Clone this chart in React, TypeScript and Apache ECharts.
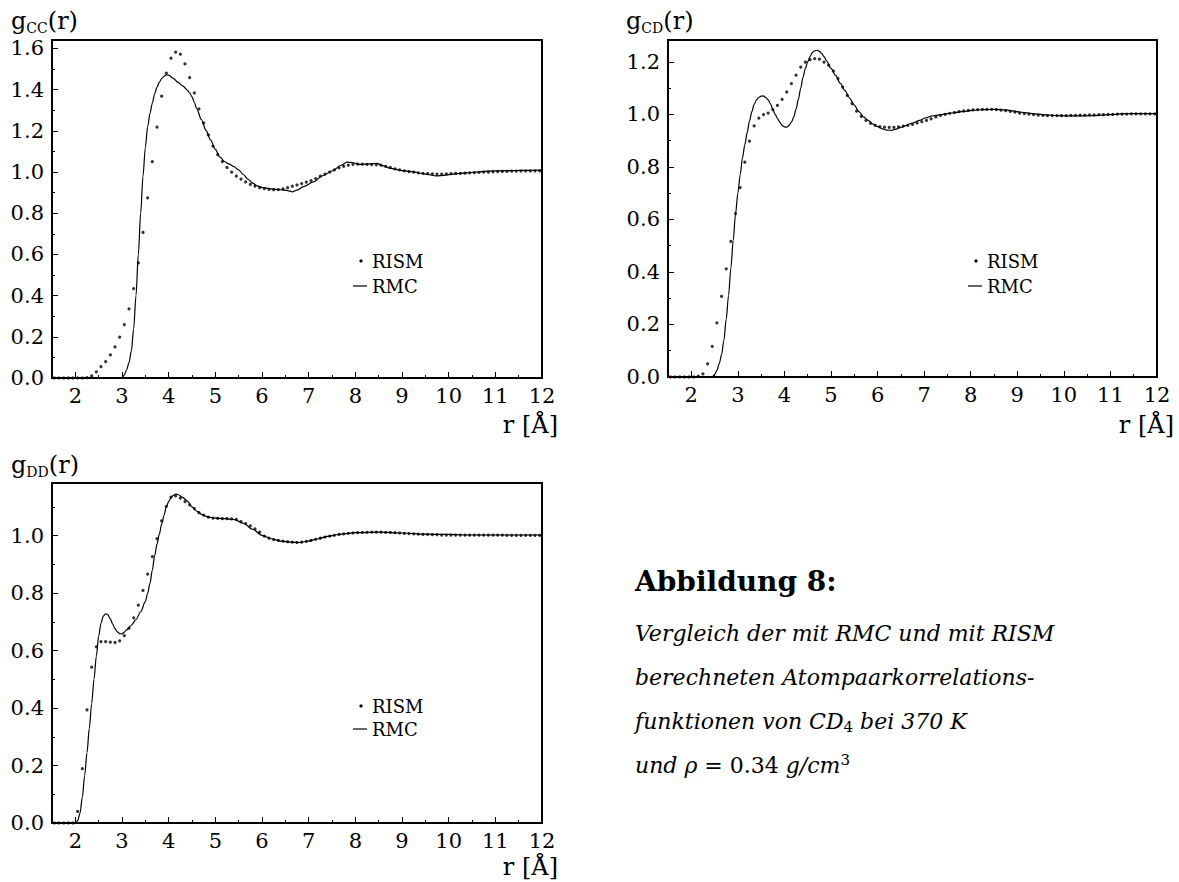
import React, { useEffect, useRef } from "react";
import * as echarts from "echarts";

// ---------- data ----------
const RISM_R = [
  1.55, 1.65, 1.75, 1.85, 1.95, 2.05, 2.15, 2.25, 2.35, 2.45,
  2.55, 2.65, 2.75, 2.85, 2.95, 3.05, 3.15, 3.25, 3.35, 3.45,
  3.55, 3.65, 3.75, 3.85, 3.95, 4.05, 4.15, 4.25, 4.35, 4.45,
  4.55, 4.65, 4.75, 4.85, 4.95, 5.05, 5.15, 5.25, 5.35, 5.45,
  5.55, 5.65, 5.75, 5.85, 5.95, 6.05, 6.15, 6.25, 6.35, 6.45,
  6.55, 6.65, 6.75, 6.85, 6.95, 7.05, 7.15, 7.25, 7.35, 7.45,
  7.55, 7.65, 7.75, 7.85, 7.95, 8.05, 8.15, 8.25, 8.35, 8.45,
  8.55, 8.65, 8.75, 8.85, 8.95, 9.05, 9.15, 9.25, 9.35, 9.45,
  9.55, 9.65, 9.75, 9.85, 9.95, 10.05, 10.15, 10.25, 10.35, 10.45,
  10.55, 10.65, 10.75, 10.85, 10.95, 11.05, 11.15, 11.25, 11.35, 11.45,
  11.55, 11.65, 11.75, 11.85, 11.95,
];

const RISM_CC = [
  0, 0, 0, 0, 0, 0, 0, 0.002, 0.01, 0.03,
  0.055, 0.08, 0.112, 0.151, 0.199, 0.259, 0.336, 0.434, 0.559, 0.707,
  0.875, 1.05, 1.218, 1.368, 1.48, 1.553, 1.582, 1.572, 1.525, 1.458,
  1.384, 1.307, 1.238, 1.18, 1.126, 1.084, 1.051, 1.022, 0.999, 0.98,
  0.966, 0.952, 0.94, 0.932, 0.924, 0.919, 0.916, 0.914, 0.915, 0.918,
  0.924, 0.931, 0.937, 0.944, 0.951, 0.958, 0.968, 0.98, 0.99, 1.0,
  1.01, 1.02, 1.028, 1.034, 1.037, 1.038, 1.038, 1.037, 1.036, 1.035,
  1.033, 1.028, 1.022, 1.015, 1.01, 1.006, 1.002, 0.999, 0.996, 0.994,
  0.992, 0.991, 0.99, 0.99, 0.991, 0.992, 0.993, 0.994, 0.995, 0.996,
  0.997, 0.998, 0.999, 1.0, 1.001, 1.002, 1.003, 1.003, 1.004, 1.004,
  1.005, 1.005, 1.005, 1.006, 1.006,
];

const RISM_CD = [
  0, 0, 0, 0, 0, 0, 0.003, 0.012, 0.05, 0.117,
  0.206, 0.307, 0.412, 0.516, 0.622, 0.721, 0.818, 0.898, 0.956, 0.986,
  0.999, 1.005, 1.018, 1.034, 1.057, 1.085, 1.117, 1.149, 1.18, 1.199,
  1.208, 1.212, 1.21, 1.199, 1.187, 1.165, 1.136, 1.104, 1.072, 1.041,
  1.012, 0.992, 0.977, 0.966, 0.958, 0.953, 0.951, 0.95, 0.95, 0.952,
  0.955, 0.958, 0.962, 0.967, 0.972, 0.977, 0.983, 0.99, 0.996, 1.0,
  1.004, 1.007, 1.01, 1.013, 1.015, 1.017, 1.018, 1.019, 1.019, 1.019,
  1.018, 1.016, 1.014, 1.011, 1.008, 1.005, 1.003, 1.001, 0.999, 0.997,
  0.996, 0.995, 0.995, 0.995, 0.995, 0.995, 0.996, 0.996, 0.997, 0.997,
  0.998, 0.998, 0.999, 0.999, 1.0, 1.0, 1.001, 1.001, 1.001, 1.002,
  1.002, 1.002, 1.002, 1.002, 1.002,
];

const RISM_DD = [
  0, 0, 0, 0, 0, 0.04, 0.189, 0.394, 0.542, 0.613,
  0.631, 0.631, 0.629, 0.628, 0.634, 0.652, 0.678, 0.714, 0.758, 0.809,
  0.866, 0.927, 0.989, 1.051, 1.102, 1.134, 1.138, 1.13, 1.118, 1.107,
  1.094, 1.08, 1.071, 1.064, 1.061, 1.06, 1.059, 1.059, 1.058, 1.056,
  1.049, 1.042, 1.034, 1.023, 1.012, 0.998, 0.991, 0.986, 0.983, 0.981,
  0.979, 0.977, 0.976, 0.977, 0.98, 0.983, 0.987, 0.991, 0.995, 0.998,
  1.001, 1.004, 1.006, 1.008, 1.009, 1.01, 1.011, 1.011, 1.012, 1.012,
  1.012, 1.011, 1.011, 1.01, 1.009, 1.008, 1.007, 1.006, 1.005, 1.004,
  1.004, 1.003, 1.003, 1.002, 1.002, 1.002, 1.002, 1.002, 1.002, 1.002,
  1.002, 1.002, 1.002, 1.002, 1.002, 1.002, 1.002, 1.001, 1.001, 1.001,
  1.001, 1.001, 1.001, 1.001, 1.001,
];

const RMC_CC_R = [
  1.5, 2.95, 3.0, 3.05, 3.1, 3.15, 3.2, 3.25, 3.3, 3.35, 3.4, 3.45, 3.5, 3.55,
  3.6, 3.65, 3.7, 3.75, 3.8, 3.85, 3.9, 3.95, 4.0, 4.1, 4.2, 4.3, 4.4, 4.45,
  4.5, 4.55, 4.6, 4.7, 4.8, 4.9, 5.0, 5.1, 5.2, 5.3, 5.4, 5.5, 5.6, 5.7, 5.8,
  5.9, 6.0, 6.2, 6.4, 6.55, 6.65, 6.75, 6.9, 7.1, 7.3, 7.5, 7.7, 7.82, 7.95,
  8.1, 8.3, 8.46, 8.6, 8.74, 9.0, 9.24, 9.5, 9.74, 9.9, 10.1, 10.39, 10.7,
  11.03, 11.5, 12.0,
];
const RMC_CC_G = [
  0, 0, 0.003, 0.015, 0.04, 0.075, 0.13, 0.24, 0.4, 0.6, 0.8, 0.98, 1.12, 1.22,
  1.285, 1.335, 1.38, 1.412, 1.436, 1.454, 1.466, 1.472, 1.47, 1.455, 1.436,
  1.418, 1.398, 1.384, 1.365, 1.338, 1.308, 1.255, 1.202, 1.155, 1.11, 1.072,
  1.05, 1.038, 1.026, 1.01, 0.988, 0.965, 0.946, 0.933, 0.925, 0.918, 0.914,
  0.91, 0.904, 0.912, 0.93, 0.952, 0.982, 1.005, 1.033, 1.048, 1.045, 1.037,
  1.04, 1.042, 1.03, 1.018, 1.007, 1.001, 0.99, 0.981, 0.984, 0.99, 0.996,
  1.002, 1.006, 1.008, 1.009,
];

const RMC_CD_R = [
  1.5, 2.45, 2.5, 2.55, 2.6, 2.65, 2.7, 2.75, 2.8, 2.85, 2.9, 2.95, 3.0, 3.05,
  3.1, 3.15, 3.2, 3.25, 3.3, 3.35, 3.4, 3.45, 3.5, 3.55, 3.6, 3.65, 3.7, 3.75,
  3.8, 3.85, 3.9, 3.95, 4.0, 4.05, 4.1, 4.15, 4.2, 4.25, 4.3, 4.35, 4.4, 4.45,
  4.5, 4.55, 4.6, 4.65, 4.7, 4.75, 4.8, 4.85, 4.9, 5.0, 5.1, 5.2, 5.3, 5.4,
  5.5, 5.6, 5.7, 5.8, 5.9, 6.0, 6.1, 6.2, 6.3, 6.4, 6.5, 6.6, 6.75, 6.9, 7.04,
  7.15, 7.25, 7.4, 7.6, 7.8, 8.04, 8.3, 8.54, 8.75, 8.9, 9.1, 9.32, 9.6, 9.89,
  10.2, 10.61, 11.0, 11.32, 11.6, 12.0,
];
const RMC_CD_G = [
  0, 0, 0.01, 0.025, 0.05, 0.085, 0.14, 0.22, 0.31, 0.415, 0.52, 0.62, 0.7,
  0.77, 0.835, 0.885, 0.93, 0.975, 1.01, 1.038, 1.055, 1.065, 1.069, 1.07,
  1.064, 1.055, 1.04, 1.02, 1.0, 0.985, 0.97, 0.958, 0.952, 0.951, 0.958, 0.97,
  0.99, 1.02, 1.058, 1.1, 1.142, 1.175, 1.2, 1.22, 1.235, 1.242, 1.244, 1.24,
  1.232, 1.22, 1.205, 1.175, 1.148, 1.118, 1.09, 1.062, 1.035, 1.01, 0.99,
  0.977, 0.963, 0.953, 0.945, 0.94, 0.939, 0.944, 0.95, 0.957, 0.967, 0.977,
  0.987, 0.993, 0.996, 1.0, 1.005, 1.01, 1.015, 1.018, 1.019, 1.017, 1.013,
  1.008, 1.003, 0.998, 0.995, 0.994, 0.995, 0.999, 1.003, 1.003, 1.003,
];

const RMC_DD_R = [
  1.5, 2.0, 2.05, 2.1, 2.15, 2.2, 2.25, 2.3, 2.35, 2.4, 2.45, 2.5, 2.55, 2.6,
  2.65, 2.7, 2.75, 2.8, 2.85, 2.9, 2.95, 3.0, 3.05, 3.1, 3.2, 3.3, 3.4, 3.5,
  3.55, 3.6, 3.65, 3.7, 3.75, 3.8, 3.85, 3.9, 3.95, 4.0, 4.05, 4.1, 4.15, 4.2,
  4.3, 4.4, 4.5, 4.6, 4.7, 4.8, 4.9, 5.0, 5.2, 5.4, 5.6, 5.8, 6.0, 6.2, 6.4,
  6.6, 6.8, 7.0, 7.2, 7.4, 7.6, 7.8, 8.0, 8.5, 9.0, 9.5, 10.0, 10.5, 11.0,
  11.5, 12.0,
];
const RMC_DD_G = [
  0, 0, 0.008, 0.034, 0.09, 0.165, 0.245, 0.33, 0.415, 0.5, 0.58, 0.65, 0.695,
  0.72, 0.728, 0.724, 0.71, 0.692, 0.676, 0.665, 0.659, 0.658, 0.664, 0.672,
  0.688, 0.708, 0.735, 0.77, 0.8, 0.835, 0.88, 0.93, 0.97, 1.005, 1.04, 1.07,
  1.1, 1.118, 1.132, 1.14, 1.144, 1.143, 1.133, 1.12, 1.1, 1.085, 1.074, 1.067,
  1.063, 1.061, 1.059, 1.056, 1.043, 1.022, 1.001, 0.989, 0.981, 0.977, 0.976,
  0.981, 0.989, 0.997, 1.003, 1.007, 1.01, 1.012, 1.009, 1.005, 1.004, 1.002,
  1.002, 1.002, 1.002,
];

const X_MAJOR = [2, 3, 4, 5, 6, 7, 8, 9, 10, 11, 12];
const X_MINOR = [2.5, 3.5, 4.5, 5.5, 6.5, 7.5, 8.5, 9.5, 10.5, 11.5];
const Y_MAJOR_CC = [0, 0.2, 0.4, 0.6, 0.8, 1.0, 1.2, 1.4, 1.6];
const Y_MINOR_CC = [0.1, 0.3, 0.5, 0.7, 0.9, 1.1, 1.3, 1.5];
const Y_MAJOR_CD = [0, 0.2, 0.4, 0.6, 0.8, 1.0, 1.2];
const Y_MINOR_CD = [0.1, 0.3, 0.5, 0.7, 0.9, 1.1];
const Y_MAJOR_DD = [0, 0.2, 0.4, 0.6, 0.8, 1.0];
const Y_MINOR_DD = [0.1, 0.3, 0.5, 0.7, 0.9, 1.1];
const Y_MAX = [1.641, 1.283, 1.183];

const SERIF = "DejaVu Serif";

function zip(a: number[], b: number[]) {
  return a.map((v, i) => [v, b[i]]);
}

export default function App() {
  const ref = useRef<HTMLDivElement>(null);

  useEffect(() => {
    if (!ref.current) return;
    const chart = echarts.init(ref.current, undefined, { renderer: "svg" });

    const grids = [
      { left: 52, top: 40, width: 490, height: 338 },
      { left: 668, top: 40, width: 489, height: 337 },
      { left: 52, top: 483, width: 490, height: 340 },
    ];
    const yMajor = [Y_MAJOR_CC, Y_MAJOR_CD, Y_MAJOR_DD];
    const yMinor = [Y_MINOR_CC, Y_MINOR_CD, Y_MINOR_DD];
    const rism = [RISM_CC, RISM_CD, RISM_DD];
    const rmc = [
      zip(RMC_CC_R, RMC_CC_G),
      zip(RMC_CD_R, RMC_CD_G),
      zip(RMC_DD_R, RMC_DD_G),
    ];

    const xAxis: any[] = [];
    const yAxis: any[] = [];
    const series: any[] = [];
    grids.forEach((_, i) => {
      xAxis.push({
        type: "value",
        gridIndex: i,
        min: 1.5,
        max: 12,
        position: "bottom",
        axisLine: { show: true, onZero: false, lineStyle: { color: "#000", width: 2 } },
        axisTick: {
          show: true,
          inside: true,
          length: 6,
          customValues: X_MAJOR,
          lineStyle: { color: "#000", width: 1 },
        },
        axisLabel: {
          customValues: X_MAJOR,
          showMinLabel: true,
          showMaxLabel: true,
          color: "#000",
          fontFamily: SERIF,
          fontSize: 21,
          margin: 7,
        },
        splitLine: { show: false },
      });
      xAxis.push({
        type: "value",
        gridIndex: i,
        min: 1.5,
        max: 12,
        position: "bottom",
        axisLine: { show: false },
        axisTick: {
          show: true,
          inside: true,
          length: 3,
          customValues: X_MINOR,
          lineStyle: { color: "#000", width: 1 },
        },
        axisLabel: { show: false },
        splitLine: { show: false },
      });
      yAxis.push({
        type: "value",
        gridIndex: i,
        min: 0,
        max: Y_MAX[i],
        position: "left",
        axisLine: { show: true, onZero: false, lineStyle: { color: "#000", width: 2 } },
        axisTick: {
          show: true,
          inside: true,
          length: 6,
          customValues: yMajor[i],
          lineStyle: { color: "#000", width: 1 },
        },
        axisLabel: {
          customValues: yMajor[i],
          showMinLabel: true,
          showMaxLabel: true,
          formatter: (v: number) => v.toFixed(1),
          color: "#000",
          fontFamily: SERIF,
          fontSize: 21,
          margin: 8,
        },
        splitLine: { show: false },
      });
      yAxis.push({
        type: "value",
        gridIndex: i,
        min: 0,
        max: Y_MAX[i],
        position: "left",
        axisLine: { show: false },
        axisTick: {
          show: true,
          inside: true,
          length: 3,
          customValues: yMinor[i],
          lineStyle: { color: "#000", width: 1 },
        },
        axisLabel: { show: false },
        splitLine: { show: false },
      });
      series.push({
        name: "RISM",
        type: "scatter",
        xAxisIndex: 2 * i,
        yAxisIndex: 2 * i,
        symbol: "circle",
        symbolSize: 3.2,
        itemStyle: { color: "#000" },
        data: zip(RISM_R, rism[i]),
        silent: true,
      });
      series.push({
        name: "RMC",
        type: "line",
        xAxisIndex: 2 * i,
        yAxisIndex: 2 * i,
        showSymbol: false,
        smooth: 0.3,
        smoothMonotone: "x",
        lineStyle: { color: "#000", width: 1.2 },
        data: rmc[i],
        silent: true,
      });
    });

    const title = (x: number, y: number, sub: string) => ({
      type: "text",
      x,
      y,
      style: {
        text: `{m|g}{s|${sub}}{m|(r)}`,
        verticalAlign: "middle",
        align: "left",
        fill: "#000",
        rich: {
          m: { fontFamily: SERIF, fontSize: 24, lineHeight: 27, fill: "#000" },
          s: {
            fontFamily: SERIF,
            fontSize: 14,
            lineHeight: 14,
            verticalAlign: "bottom",
            fill: "#000",
          },
        },
      },
    });
    const axisName = (x: number, y: number) => ({
      type: "text",
      x,
      y,
      style: {
        text: "r [Å]",
        align: "right",
        verticalAlign: "middle",
        fontFamily: SERIF,
        fontSize: 24,
        fill: "#000",
      },
    });
    const legend = (x: number, y1: number, y2: number) => [
      { type: "circle", shape: { cx: x, cy: y1, r: 1.6 }, style: { fill: "#000" } },
      {
        type: "text",
        x: x + 11,
        y: y1,
        style: {
          text: "RISM",
          align: "left",
          verticalAlign: "middle",
          fontFamily: SERIF,
          fontSize: 18,
          fill: "#000",
        },
      },
      {
        type: "line",
        shape: { x1: x - 8, y1: y2, x2: x + 6, y2: y2 },
        style: { stroke: "#000", lineWidth: 1.2 },
      },
      {
        type: "text",
        x: x + 11,
        y: y2,
        style: {
          text: "RMC",
          align: "left",
          verticalAlign: "middle",
          fontFamily: SERIF,
          fontSize: 18,
          fill: "#000",
        },
      },
    ];
    const capLine = (y: number, text: string, rich?: any) => ({
      type: "text",
      x: 635,
      y,
      style: {
        text,
        align: "left",
        verticalAlign: "middle",
        fontFamily: SERIF,
        fontStyle: "italic",
        fontSize: 22,
        fill: "#000",
        rich,
      },
    });
    const it = { fontFamily: SERIF, fontStyle: "italic", fontSize: 22, fill: "#000" };
    const up = { fontFamily: SERIF, fontStyle: "normal", fontSize: 22, fill: "#000" };
    const sub = {
      fontFamily: SERIF,
      fontStyle: "normal",
      fontSize: 15,
      lineHeight: 15,
      verticalAlign: "bottom",
      fill: "#000",
    };
    const sup = {
      fontFamily: SERIF,
      fontStyle: "normal",
      fontSize: 15,
      lineHeight: 15,
      verticalAlign: "top",
      fill: "#000",
    };

    const graphic: any[] = [
      title(11, 21, "CC"),
      title(626, 21, "CD"),
      title(11, 465, "DD"),
      axisName(558, 425),
      axisName(1174, 425),
      axisName(558, 867),
      ...legend(361, 261, 286),
      ...legend(976, 261, 286),
      ...legend(361, 706, 729),
      {
        type: "text",
        x: 635,
        y: 581,
        style: {
          text: "Abbildung 8:",
          align: "left",
          verticalAlign: "middle",
          fontFamily: SERIF,
          fontWeight: "bold",
          fontSize: 28,
          fill: "#000",
        },
      },
      capLine(633, "Vergleich der mit RMC und mit RISM"),
      capLine(677, "berechneten Atompaarkorrelations-"),
      capLine(721, "{i|funktionen von CD}{s|4}{i| bei 370 K}", { i: { ...it, lineHeight: 26 }, s: sub }),
      capLine(765, "{i|und ρ }{u|= 0.34 }{i|g/cm}{p|3}", {
        i: { ...it, lineHeight: 26 },
        u: { ...up, lineHeight: 26 },
        p: sup,
      }),
    ];

    chart.setOption({
      animation: false,
      backgroundColor: "#fff",
      grid: grids.map((g) => ({
        ...g,
        show: true,
        borderColor: "#000",
        borderWidth: 2,
        backgroundColor: "transparent",
        containLabel: false,
      })),
      xAxis,
      yAxis,
      series,
      graphic,
    });

    return () => chart.dispose();
  }, []);

  return (
    <div
      ref={ref}
      style={{ position: "absolute", left: 0, top: 0, width: 1179, height: 882, background: "#fff" }}
    />
  );
}
